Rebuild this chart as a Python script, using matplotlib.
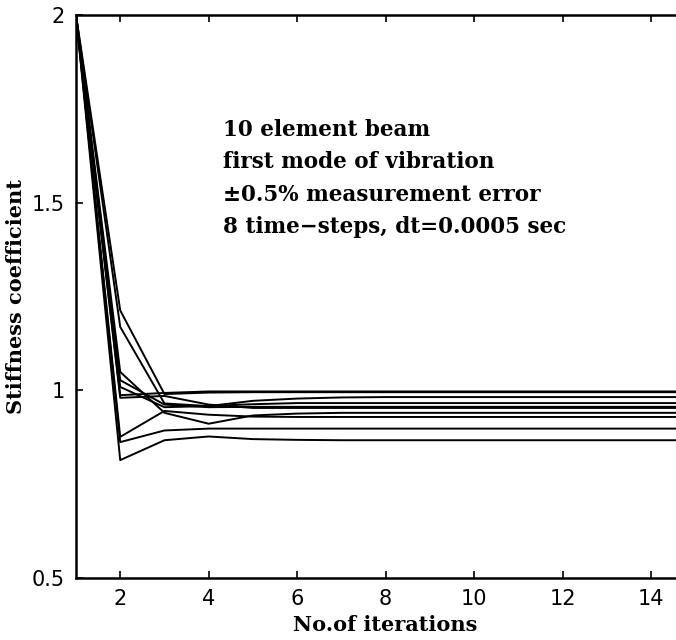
import matplotlib.pyplot as plt

iterations = list(range(1, 16))

# stiffness coefficient of each element vs. iteration
series = [
    [2, 0.814, 0.867, 0.877, 0.870, 0.868, 0.867, 0.867, 0.867, 0.867, 0.867, 0.867, 0.867, 0.867, 0.867],
    [2, 0.862, 0.893, 0.898, 0.898, 0.898, 0.898, 0.898, 0.898, 0.898, 0.898, 0.898, 0.898, 0.898, 0.898],
    [2, 0.876, 0.945, 0.935, 0.930, 0.929, 0.929, 0.929, 0.929, 0.929, 0.929, 0.929, 0.929, 0.929, 0.929],
    [2, 0.987, 0.993, 0.997, 0.997, 0.997, 0.997, 0.997, 0.997, 0.997, 0.997, 0.997, 0.997, 0.997, 0.997],
    [2, 1.049, 0.940, 0.911, 0.933, 0.938, 0.940, 0.940, 0.940, 0.940, 0.940, 0.940, 0.940, 0.940, 0.940],
    [2, 1.027, 0.962, 0.955, 0.956, 0.956, 0.956, 0.956, 0.956, 0.956, 0.956, 0.956, 0.956, 0.956, 0.956],
    [2, 1.009, 0.955, 0.958, 0.963, 0.966, 0.966, 0.966, 0.966, 0.966, 0.966, 0.966, 0.966, 0.966, 0.966],
    [2, 1.213, 0.990, 0.994, 0.995, 0.995, 0.995, 0.995, 0.995, 0.995, 0.995, 0.995, 0.995, 0.995, 0.995],
    [2, 1.169, 0.965, 0.958, 0.972, 0.978, 0.981, 0.982, 0.982, 0.982, 0.982, 0.982, 0.982, 0.982, 0.982],
    [2, 0.980, 0.985, 0.962, 0.953, 0.953, 0.953, 0.953, 0.953, 0.953, 0.953, 0.953, 0.953, 0.953, 0.953],
]

x_ticks = [2, 4, 6, 8, 10, 12, 14]
y_ticks = [0.5, 1, 1.5, 2]
y_tick_labels = ["0.5", "1", "1.5", "2"]

notes = [
    "10 element beam",
    "first mode of vibration",
    "\u00b10.5% measurement error",
    "8 time\u2212steps, dt=0.0005 sec",
]

fig = plt.figure(figsize=(6.76, 6.4), dpi=100)
ax = fig.add_axes([0.1124, 0.0969, 0.916, 0.8797])

for s in series:
    ax.plot(iterations, s, color="black", linewidth=1.4)

ax.set_xlim(1, 15)
ax.set_ylim(0.5, 2)
ax.set_xticks(x_ticks)
ax.set_yticks(y_ticks)
ax.set_yticklabels(y_tick_labels)
ax.tick_params(axis="both", direction="in", length=5, width=1.2,
               top=True, right=True, labelsize=15, pad=8)

for sp in ax.spines.values():
    sp.set_linewidth(1.8)

ax.set_xlabel("No.of iterations", fontsize=15, family="DejaVu Serif",
              fontweight="bold", labelpad=4)
ax.set_ylabel("Stiffness coefficient", fontsize=15, family="DejaVu Serif",
              fontweight="bold", labelpad=4)

for i, t in enumerate(notes):
    ax.text(0.237, 0.796 - i * 0.0577, t, transform=ax.transAxes,
            fontsize=15.5, family="DejaVu Serif", fontweight="bold",
            va="center", ha="left")

plt.savefig("out.png", dpi=100)
